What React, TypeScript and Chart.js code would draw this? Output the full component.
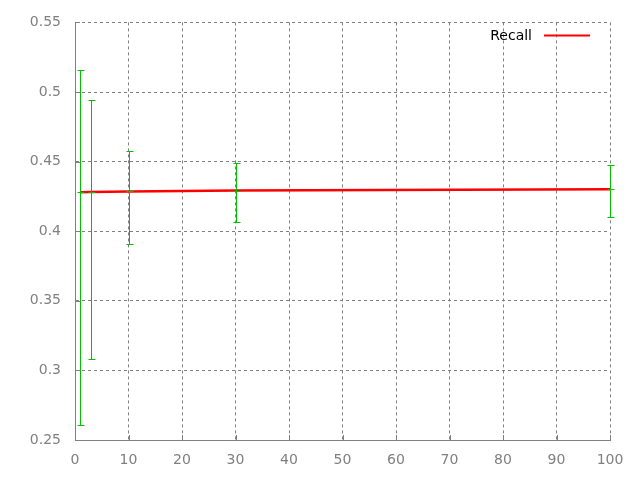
import React, { useEffect, useRef } from "react";
import { Chart, registerables } from "chart.js";

Chart.register(...registerables);

// Data
const xValues = [1, 3, 10, 30, 100];
const recallMean = [0.4279, 0.4281, 0.4286, 0.4292, 0.4301];
const recallLow = [0.2605, 0.3084, 0.3907, 0.4069, 0.4105];
const recallHigh = [0.5155, 0.4941, 0.4576, 0.4491, 0.4476];
const xTickValues = [0, 10, 20, 30, 40, 50, 60, 70, 80, 90, 100];
const yTickValues = [0.25, 0.3, 0.35, 0.4, 0.45, 0.5, 0.55];
const seriesLabel = "Recall";

const FONT = "'DejaVu Sans', sans-serif";
const GRAY = "#808080";
const GREEN = "#00c000";
const RED = "#ff0000";

const errorBarPlugin = {
  id: "errorBars",
  afterDatasetsDraw(chart: any) {
    const { ctx, scales } = chart;
    const xs = scales.x;
    const ys = scales.y;
    ctx.save();
    ctx.setLineDash([]);
    ctx.strokeStyle = GREEN;
    ctx.lineWidth = 1;
    for (let i = 0; i < xValues.length; i++) {
      const px = Math.round(xs.getPixelForValue(xValues[i])) + 0.5;
      const pl = Math.round(ys.getPixelForValue(recallLow[i])) + 0.5;
      const ph = Math.round(ys.getPixelForValue(recallHigh[i])) + 0.5;
      const pm = Math.round(ys.getPixelForValue(recallMean[i])) + 0.5;
      ctx.beginPath();
      ctx.moveTo(px, pl);
      ctx.lineTo(px, ph);
      ctx.moveTo(px - 3, pl);
      ctx.lineTo(px + 4, pl);
      ctx.moveTo(px - 3, ph);
      ctx.lineTo(px + 4, ph);
      ctx.moveTo(px - 3, pm);
      ctx.lineTo(px + 4, pm);
      ctx.stroke();
    }
    ctx.restore();
  },
};

const inwardTicksAndLegend = {
  id: "inwardTicksAndLegend",
  afterDraw(chart: any) {
    const { ctx, chartArea, scales } = chart;
    ctx.save();
    ctx.setLineDash([]);
    ctx.strokeStyle = GRAY;
    ctx.lineWidth = 1;
    ctx.beginPath();
    for (const v of xTickValues) {
      const px = Math.round(scales.x.getPixelForValue(v)) + 0.5;
      ctx.moveTo(px, chartArea.bottom);
      ctx.lineTo(px, chartArea.bottom - 5);
    }
    for (const v of yTickValues) {
      const py = Math.round(scales.y.getPixelForValue(v)) + 0.5;
      ctx.moveTo(chartArea.left, py);
      ctx.lineTo(chartArea.left + 5, py);
    }
    ctx.stroke();

    // legend
    const textRight = chartArea.right - 78;
    const ly = chartArea.top + 13;
    ctx.fillStyle = "#000000";
    ctx.font = `14px ${FONT}`;
    ctx.textAlign = "right";
    ctx.textBaseline = "middle";
    ctx.fillText(seriesLabel, textRight, ly + 1);
    ctx.strokeStyle = RED;
    ctx.lineWidth = 2;
    ctx.beginPath();
    ctx.moveTo(textRight + 12, ly);
    ctx.lineTo(textRight + 58, ly);
    ctx.stroke();
    ctx.restore();
  },
};

const fmt = (v: number) => String(Number(v.toFixed(2)));

export default function App() {
  const canvasRef = useRef<HTMLCanvasElement | null>(null);

  useEffect(() => {
    document.body.style.margin = "0";
    const canvas = canvasRef.current;
    if (!canvas) return;
    const chart = new Chart(canvas, {
      type: "line",
      data: {
        datasets: [
          {
            label: seriesLabel,
            data: xValues.map((x, i) => ({ x, y: recallMean[i] })),
            borderColor: RED,
            backgroundColor: RED,
            borderWidth: 2.5,
            pointRadius: 0,
            tension: 0,
          },
        ],
      },
      options: {
        animation: false,
        responsive: false,
        devicePixelRatio: 1,
        layout: { padding: { top: 20, right: 30, left: 0, bottom: 0 } },
        plugins: {
          legend: { display: false },
          tooltip: { enabled: false },
        },
        scales: {
          x: {
            type: "linear",
            min: 0,
            max: 100,
            afterBuildTicks: (scale: any) => {
              scale.ticks = xTickValues.map((value) => ({ value }));
            },
            afterFit: (scale: any) => {
              scale.height = 40;
            },
            ticks: {
              color: GRAY,
              font: { family: FONT, size: 14 },
              padding: 12,
              maxRotation: 0,
              autoSkip: false,
              callback: (v: any) => fmt(Number(v)),
            },
            grid: {
              color: GRAY,
              lineWidth: 1,
              drawTicks: false,
            },
            border: { display: true, color: GRAY, width: 1, dash: [3, 3] },
          },
          y: {
            type: "linear",
            min: 0.25,
            max: 0.55,
            afterBuildTicks: (scale: any) => {
              scale.ticks = yTickValues.map((value) => ({ value }));
            },
            afterFit: (scale: any) => {
              scale.width = 75;
            },
            ticks: {
              color: GRAY,
              font: { family: FONT, size: 14 },
              padding: 14,
              autoSkip: false,
              callback: (v: any) => fmt(Number(v)),
            },
            grid: {
              color: GRAY,
              lineWidth: 1,
              drawTicks: false,
            },
            border: { display: true, color: GRAY, width: 1, dash: [3, 3] },
          },
        },
      },
      plugins: [errorBarPlugin, inwardTicksAndLegend],
    } as any);
    return () => chart.destroy();
  }, []);

  return (
    <div style={{ position: "absolute", left: 0, top: 0, width: 640, height: 480, background: "#fff" }}>
      <canvas ref={canvasRef} width={640} height={480} style={{ width: 640, height: 480 }} />
    </div>
  );
}
